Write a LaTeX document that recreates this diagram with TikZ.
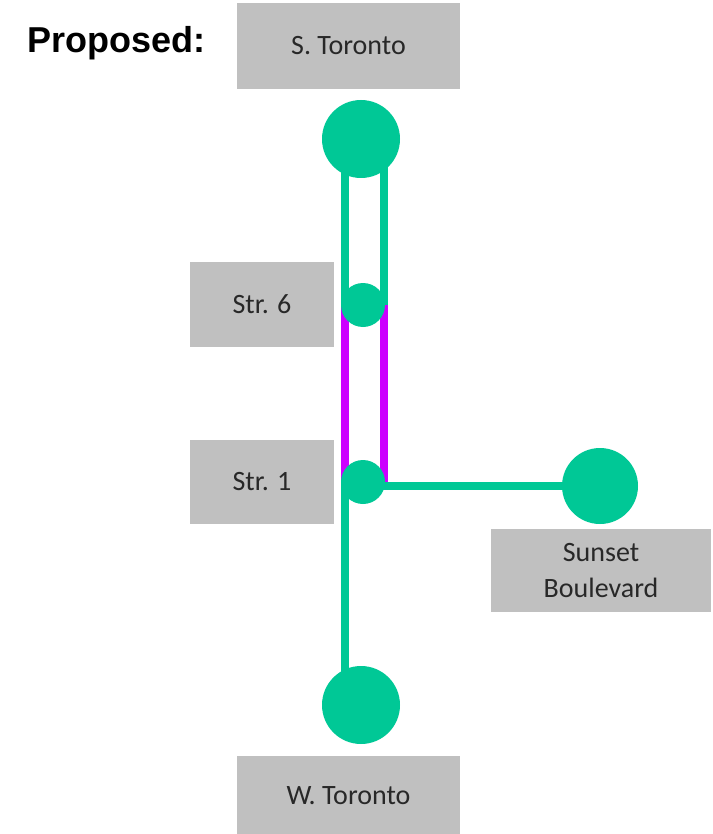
\documentclass[tikz,border=0pt]{standalone}
\usepackage{fontspec}
\setmainfont{Carlito}
\newfontfamily\headfont{Liberation Sans}
\usetikzlibrary{calc}
\definecolor{mgreen}{RGB}{0,200,150}
\definecolor{mmag}{RGB}{204,0,255}
\definecolor{mgray}{RGB}{192,192,192}
\definecolor{mtext}{RGB}{40,40,40}
\tikzset{
  lbl/.style={fill=mgray, inner sep=0pt, text=mtext, font=\fontsize{28}{36}\selectfont, align=center},
  bigstop/.style={circle, fill=mgreen, minimum size=78pt, inner sep=0pt},
  smallstop/.style={circle, fill=mgreen, minimum size=44pt, inner sep=0pt},
  gline/.style={draw=mgreen, line width=8pt},
  mline/.style={draw=mmag, line width=8pt}
}
\begin{document}
\begin{tikzpicture}[x=1pt,y=-1pt]
\useasboundingbox (0,0) rectangle (712,834);
% labels
\node[font=\headfont\bfseries\fontsize{36}{40}\selectfont, anchor=west, inner sep=0pt] (title) at (27,43) {Proposed:};
\node[lbl, minimum width=223pt, minimum height=86pt] (stl) at (348.5,46) {S. Toronto};
\node[lbl, minimum width=144pt, minimum height=85pt] (s6l) at (262,304.5) {Str. 6};
\node[lbl, minimum width=144pt, minimum height=84pt] (s1l) at (262,482) {Str. 1};
\node[lbl, minimum width=220pt, minimum height=83pt] (sbl) at (601,570.5) {Sunset\\Boulevard};
\node[lbl, minimum width=223pt, minimum height=79pt] (wtl) at (348.5,795.5) {W. Toronto};
% stations (positions)
\coordinate (stc) at (361,139);
\coordinate (s6c) at (363,305);
\coordinate (s1c) at (363,482);
\coordinate (sbc) at (600,486);
\coordinate (wtc) at (361,705);
% lines
\draw[gline] ($(stc)+(-16,0)$) -- ($(wtc)+(-16,0)$);
\draw[gline] ($(stc)+(23,0)$) |- (sbc);
\draw[mline] ($(s6c)+(-18,0)$) -- ($(s1c)+(-18,0)$);
\draw[mline] ($(s6c)+(21,0)$) -- ($(s1c)+(21,0)$);
% stops
\node[bigstop] (st) at (stc) {};
\node[smallstop] (s6) at (s6c) {};
\node[smallstop] (s1) at (s1c) {};
\node[bigstop, minimum size=76pt] (sb) at (sbc) {};
\node[bigstop] (wt) at (wtc) {};
\end{tikzpicture}
\end{document}
